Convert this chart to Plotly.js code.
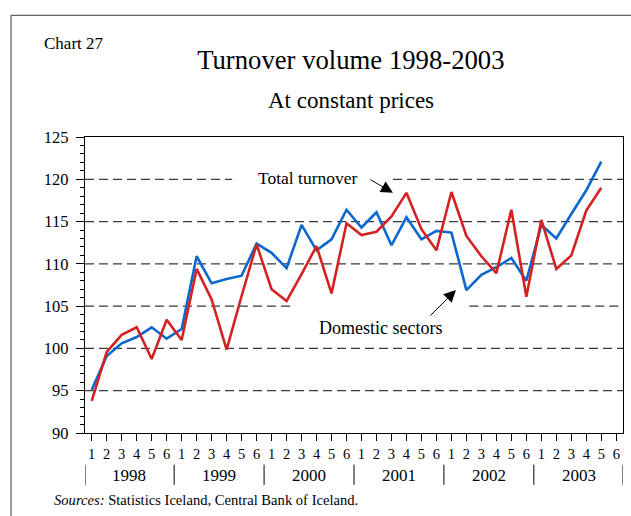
<!DOCTYPE html>
<html>
<head>
<meta charset="utf-8">
<script src="https://cdn.plot.ly/plotly-3.0.1.min.js"></script>
<style>html,body{margin:0;padding:0;background:#fff;}#chart{width:631px;height:516px;}</style>
</head>
<body>
<div id="chart"></div>
<script>
// ---- data ----
const years = ['1998', '1999', '2000', '2001', '2002', '2003'];
const periodLabels = ['1', '2', '3', '4', '5', '6'];
// Total turnover (red), bi-monthly periods from 1998/1 to 2003/5
const totalTurnover = [93.8, 99.6, 101.6, 102.5, 98.75, 103.4,
  101.0, 109.4, 105.8, 99.85, 106.2, 112.3,
  107.0, 105.6, 108.8, 112.1, 106.5, 114.8,
  113.4, 113.8, 115.6, 118.4, 114.1, 111.6,
  118.5, 113.3, 110.9, 108.9, 116.4, 106.1,
  115.2, 109.4, 111.0, 116.3, 119.0];
// Domestic sectors (blue)
const domesticSectors = [95.1, 99.1, 100.6, 101.35, 102.5, 101.15,
  102.3, 110.9, 107.7, 108.2, 108.6, 112.4,
  111.3, 109.5, 114.6, 111.6, 112.9, 116.4,
  114.3, 116.1, 112.2, 115.5, 112.9, 113.9,
  113.7, 106.9, 108.7, 109.6, 110.7, 108.0,
  114.6, 113.0, 115.9, 118.7, 122.1];

// ---- derived ----
const tickVals = [], tickText = [];
years.forEach((y, yi) => periodLabels.forEach((p, pi) => {
  tickVals.push(yi * periodLabels.length + pi);
  tickText.push(p);
}));
const xTotal = totalTurnover.map((_, i) => tickVals[i]);
const xDom = domesticSectors.map((_, i) => tickVals[i]);

const FONT = 'Liberation Serif, Times New Roman, serif';
const xMin = -0.45, xMax = 35.45;

const traces = [
  {x: xDom, y: domesticSectors, type: 'scatter', mode: 'lines', name: 'Domestic sectors',
   line: {color: '#0a68cc', width: 2.6}, hoverinfo: 'y'},
  {x: xTotal, y: totalTurnover, type: 'scatter', mode: 'lines', name: 'Total turnover',
   line: {color: '#d42222', width: 2.6}, hoverinfo: 'y'}
];

// gridlines as dashed shapes (gaps behind the labels)
const shapes = [];
const gridDash = '9px,5px';
const gridSegs = {95: [[xMin, xMax]], 100: [[xMin, xMax]], 105: [[xMin, 13.57], [25.2, xMax]],
  110: [[xMin, xMax]], 115: [[xMin, xMax]], 120: [[xMin, 9.37], [20.1, xMax]]};
Object.keys(gridSegs).forEach(v => gridSegs[v].forEach(s => shapes.push({
  type: 'line', xref: 'x', yref: 'y', x0: s[0], x1: s[1], y0: +v, y1: +v, layer: 'below',
  line: {color: '#3a3a3a', width: 1.2, dash: gridDash}
})));
// year separators
const seps = [xMin];
for (let k = 1; k < years.length; k++) seps.push(k * periodLabels.length - 0.5);
seps.push(xMax);
seps.forEach(s => shapes.push({type: 'line', xref: 'x', yref: 'paper', x0: s, x1: s,
  y0: -0.107, y1: -0.175, line: {color: '#000', width: 1}}));
// outer frame (left & top)
shapes.push({type: 'line', xref: 'paper', yref: 'paper', x0: -0.1375, x1: -0.1375, y0: -0.4, y1: 1.411,
  line: {color: '#666', width: 1.3}});
shapes.push({type: 'line', xref: 'paper', yref: 'paper', x0: -0.1375, x1: 1.2, y0: 1.411, y1: 1.411,
  line: {color: '#666', width: 1.3}});

const annotations = [];
years.forEach((y, yi) => annotations.push({
  x: yi * periodLabels.length + (periodLabels.length - 1) / 2, y: -0.144, xref: 'x', yref: 'paper',
  text: y, showarrow: false, xanchor: 'center', yanchor: 'middle',
  font: {family: FONT, size: 17, color: '#000'}
}));
annotations.push({x: -0.0615, y: -0.225, xref: 'paper', yref: 'paper', xanchor: 'left', yanchor: 'middle',
  text: '<i>Sources:</i> Statistics Iceland, Central Bank of Iceland.', showarrow: false,
  font: {family: FONT, size: 14.6, color: '#000'}});
annotations.push({x: -0.0805, y: 1.315, xref: 'paper', yref: 'paper', xanchor: 'left', yanchor: 'middle',
  text: 'Chart 27', showarrow: false, font: {family: FONT, size: 17, color: '#000'}});
annotations.push({x: 0.495, y: 1.1226, xref: 'paper', yref: 'paper', xanchor: 'center', yanchor: 'middle',
  text: 'At constant prices', showarrow: false, font: {family: FONT, size: 23, color: '#000'}});
annotations.push({x: 14.4, y: 120.2, xref: 'x', yref: 'y', xanchor: 'center', yanchor: 'middle',
  text: 'Total turnover', showarrow: false, font: {family: FONT, size: 17.5, color: '#000'}});
annotations.push({x: 19.3, y: 102.4, xref: 'x', yref: 'y', xanchor: 'center', yanchor: 'middle',
  text: 'Domestic sectors', showarrow: false, font: {family: FONT, size: 18, color: '#000'}});
annotations.push({x: 20.1, y: 118.4, xref: 'x', yref: 'y', ax: -24, ay: -14, text: '',
  showarrow: true, arrowhead: 2, arrowsize: 2.4, arrowwidth: 1, arrowcolor: '#000'});
annotations.push({x: 24.3, y: 106.9, xref: 'x', yref: 'y', ax: -27, ay: 27, text: '',
  showarrow: true, arrowhead: 2, arrowsize: 2.4, arrowwidth: 1, arrowcolor: '#000'});

const layout = {
  width: 631, height: 516,
  margin: {l: 85, r: 8, t: 137, b: 83},
  paper_bgcolor: '#fff', plot_bgcolor: '#fff',
  showlegend: false,
  title: {text: 'Turnover volume 1998-2003', x: 0.556, xanchor: 'center', y: 0.885, yanchor: 'middle',
    font: {family: FONT, size: 26.7, color: '#000'}},
  xaxis: {range: [xMin, xMax], tickmode: 'array', tickvals: tickVals, ticktext: tickText,
    ticks: 'outside', ticklen: 7, tickwidth: 1, tickcolor: '#000',
    showline: true, linecolor: '#000', linewidth: 1.2, mirror: true,
    showgrid: false, zeroline: false,
    tickfont: {family: FONT, size: 14.5, color: '#000'}},
  yaxis: {range: [90, 125], dtick: 5, tick0: 90,
    ticks: 'outside', ticklen: 8, tickwidth: 1, tickcolor: '#000', ticklabelstandoff: 4,
    minor: {dtick: 1, ticks: 'outside', ticklen: 4, tickwidth: 1, tickcolor: '#000', showgrid: false},
    showline: true, linecolor: '#000', linewidth: 1.2, mirror: true,
    showgrid: false, zeroline: false,
    tickfont: {family: FONT, size: 16.5, color: '#000'}},
  shapes: shapes,
  annotations: annotations
};

Plotly.newPlot('chart', traces, layout, {displayModeBar: false, staticPlot: true});
</script>
</body>
</html>
